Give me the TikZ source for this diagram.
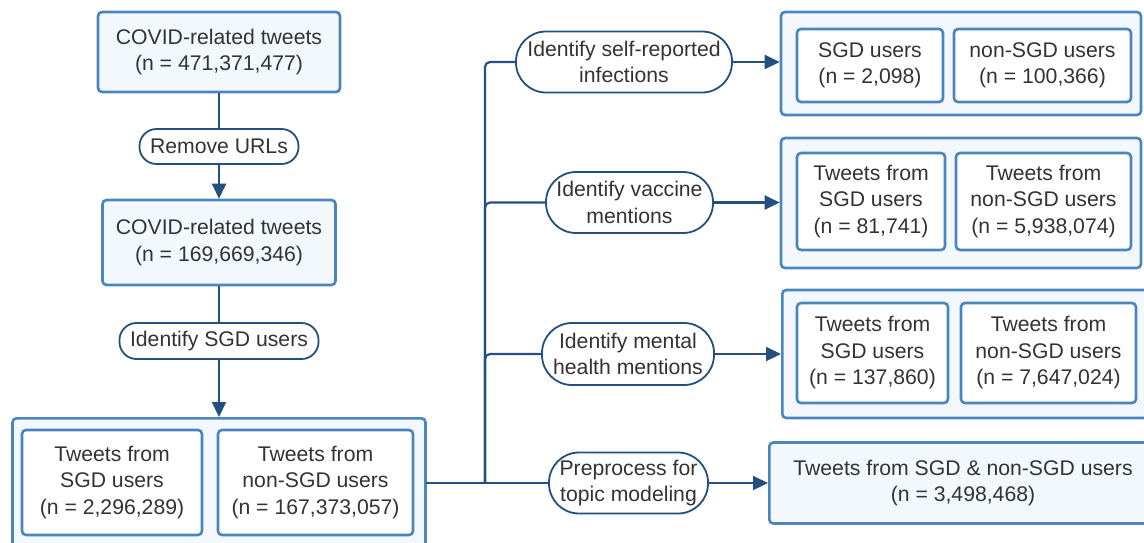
\documentclass[tikz,border=0pt]{standalone}
\usepackage{fontspec}
\setmainfont{Liberation Sans}
\usetikzlibrary{arrows.meta}
\definecolor{boxfill}{HTML}{F3F8FD}
\definecolor{boxline}{HTML}{4A85BF}
\definecolor{conn}{HTML}{24507E}
\definecolor{txt}{HTML}{333333}
\tikzset{
  base/.style={align=center, text=txt, font=\fontsize{21.2}{26.5}\selectfont, inner sep=0pt},
  outerbox/.style={base, draw=boxline, fill=boxfill, line width=2.6pt, rounded corners=4pt},
  innerbox/.style={base, draw=boxline, fill=white, line width=2.6pt, rounded corners=4pt},
  pill/.style={base, draw=conn, fill=white, line width=1.8pt, rounded corners=17pt},
  bigpill/.style={base, draw=conn, fill=white, line width=1.8pt, rounded corners=30pt},
  conline/.style={draw=conn, line width=2.2pt},
  arr/.style={conline, -{Triangle[length=15pt,width=14pt]}},
}
\begin{document}
\begin{tikzpicture}[x=1pt,y=-1pt]
\useasboundingbox (0,0) rectangle (1144,542);
\clip (0,0) rectangle (1144,542);
% left column
\node[outerbox, minimum width=242pt, minimum height=80pt] (b1) at (219,52) {COVID-related tweets\\(n = 471,371,477)};
\node[pill, minimum width=159pt, minimum height=35pt] (p0) at (219,146.5) {Remove URLs};
\node[outerbox, minimum width=233pt, minimum height=85pt] (b2) at (219,242.5) {COVID-related tweets\\(n = 169,669,346)};
\node[pill, minimum width=199pt, minimum height=36pt] (p00) at (219,341) {Identify SGD users};
\node[outerbox, minimum width=413pt, minimum height=140pt, anchor=north] (big) at (219,417) {};
\node[innerbox, minimum width=180pt, minimum height=105pt] (bl) at (112,482.5) {Tweets from\\SGD users\\(n = 2,296,289)};
\node[innerbox, minimum width=195pt, minimum height=105pt] (br) at (315.5,482.5) {Tweets from\\non-SGD users\\(n = 167,373,057)};
\coordinate (bigE) at (425.5,483);
\draw[conline] (b1.south) -- (p0.north);
\draw[arr] (p0.south) -- (b2.north);
\draw[conline] (b2.south) -- (p00.north);
\draw[arr] (p00.south) -- (big.north);
% pills on the right
\node[bigpill, minimum width=216pt, minimum height=61pt] (p1) at (624,62) {Identify self-reported\\infections};
\node[bigpill, minimum width=167pt, minimum height=61pt] (p2) at (629.5,202.5) {Identify vaccine\\mentions};
\node[bigpill, minimum width=172pt, minimum height=62pt] (p3) at (628,354) {Identify mental\\health mentions};
\node[bigpill, minimum width=159pt, minimum height=61pt] (p4) at (628.5,483) {Preprocess for\\topic modeling};
% result boxes
\node[outerbox, minimum width=360pt, minimum height=103pt] (r1) at (961,63.5) {};
\node[innerbox, minimum width=146pt, minimum height=73pt] (r1a) at (870,65.5) {SGD users\\(n = 2,098)};
\node[innerbox, minimum width=177pt, minimum height=73pt] (r1b) at (1042.5,65.5) {non-SGD users\\(n = 100,366)};
\node[outerbox, minimum width=360pt, minimum height=130pt] (r2) at (961,203) {};
\node[innerbox, minimum width=148pt, minimum height=97pt] (r2a) at (871,201.5) {Tweets from\\SGD users\\(n = 81,741)};
\node[innerbox, minimum width=175pt, minimum height=97pt] (r2b) at (1043.5,201.5) {Tweets from\\non-SGD users\\(n = 5,938,074)};
\node[outerbox, minimum width=380pt, minimum height=128pt, anchor=west] (r3) at (781,354) {};
\node[innerbox, minimum width=151pt, minimum height=100pt] (r3a) at (872.5,353) {Tweets from\\SGD users\\(n = 137,860)};
\node[innerbox, minimum width=175pt, minimum height=100pt] (r3b) at (1048.5,353) {Tweets from\\non-SGD users\\(n = 7,647,024)};
\node[outerbox, minimum width=390pt, minimum height=81pt, anchor=west] (r4) at (768,483) {};
\node[base] (r4t) at (963,483) {Tweets from SGD \& non-SGD users\\(n = 3,498,468)};
% connectors
\coordinate (j) at (485,483);
\draw[conline] (bigE) -- (p4.west);
\draw[conline, rounded corners=5pt] (j) |- (p1.west);
\draw[conline, rounded corners=5pt] (j) |- (p2.west);
\draw[conline, rounded corners=5pt] (j) |- (p3.west);
\draw[arr] (p1.east) -- (r1.west |- p1.east);
\draw[arr] (p2.east) -- (r2.west |- p2.east);
\draw[arr] (p3.east) -- (r3.west |- p3.east);
\draw[arr] (p4.east) -- (r4.west |- p4.east);
\end{tikzpicture}
\end{document}
